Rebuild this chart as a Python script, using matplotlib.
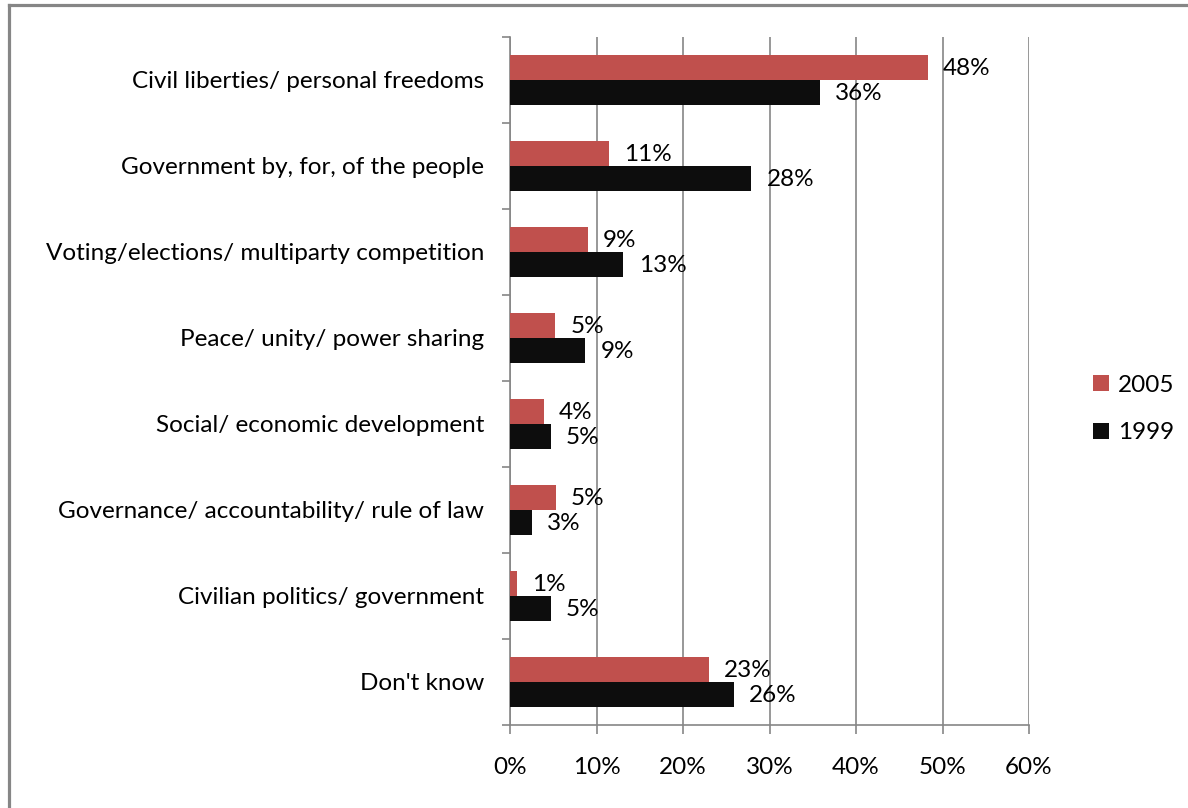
import numpy as np
import matplotlib.pyplot as plt
from matplotlib.lines import Line2D
from matplotlib.ticker import FixedLocator

plt.rcParams['font.family'] = ['Lato', 'DejaVu Sans']

categories = ["Civil liberties/ personal freedoms",
              "Government by, for, of the people",
              "Voting/elections/ multiparty competition",
              "Peace/ unity/ power sharing",
              "Social/ economic development",
              "Governance/ accountability/ rule of law",
              "Civilian politics/ government",
              "Don't know"]
vals_2005 = [48.3, 11.4, 9.0, 5.2, 3.9, 5.3, 0.8, 23.0]
vals_1999 = [35.8, 27.9, 13.1, 8.7, 4.7, 2.5, 4.7, 25.9]
labels_2005 = ["48%", "11%", "9%", "5%", "4%", "5%", "1%", "23%"]
labels_1999 = ["36%", "28%", "13%", "9%", "5%", "3%", "5%", "26%"]
xticks = [0, 10, 20, 30, 40, 50, 60]

red = '#C0504D'
black = '#0D0D0D'
grey = '#868686'
fs = 17.5

fig = plt.figure(figsize=(11.88, 8.08), dpi=100)
ax = fig.add_axes([510 / 1188, 1 - 725 / 808, 519 / 1188, 688 / 808])

y = np.arange(len(categories))
h = 0.29
b1 = ax.barh(y - h / 2, vals_2005, height=h, color=red, label='2005', zorder=3)
b2 = ax.barh(y + h / 2, vals_1999, height=h, color=black, label='1999', zorder=3)

for bars, labs in ((b1, labels_2005), (b2, labels_1999)):
    for bar, lab in zip(bars, labs):
        ax.annotate(lab, (bar.get_width(), bar.get_y() + bar.get_height() / 2),
                    xytext=(11, -1), textcoords='offset points',
                    va='center', ha='left', fontsize=fs, color='black', zorder=4)

ax.set_xlim(0, 60)
ax.set_ylim(len(categories) - 0.5, -0.5)
ax.set_xticks(xticks)
ax.set_xticklabels([f"{t}%" for t in xticks])
ax.set_yticks(y)
ax.set_yticklabels(categories)
ax.yaxis.set_minor_locator(FixedLocator(np.arange(-0.5, len(categories), 1.0)))

ax.grid(axis='x', color=grey, linewidth=1.2, zorder=0)
for s in ('top', 'right'):
    ax.spines[s].set_visible(False)
for s in ('left', 'bottom'):
    ax.spines[s].set_color(grey)
    ax.spines[s].set_linewidth(1.2)

ax.tick_params(axis='x', length=6.5, width=1.2, color=grey, pad=16.5, labelsize=fs)
ax.tick_params(axis='y', which='major', length=0, pad=18.5, labelsize=fs)
ax.tick_params(axis='y', which='minor', length=6, width=1.2, color=grey)

fig.legend(loc='center left', bbox_to_anchor=(1093 / 1188, 1 - 409 / 808),
           frameon=False, fontsize=fs, handlelength=0.66, handleheight=0.66,
           handletextpad=0.35, labelspacing=1.1, borderpad=0, borderaxespad=0)

# outer frame (only top and left visible)
fig.add_artist(Line2D([8.5 / 1188, 1], [1 - 4.5 / 808, 1 - 4.5 / 808],
                      transform=fig.transFigure, color=grey, linewidth=2.3))
fig.add_artist(Line2D([8.5 / 1188, 8.5 / 1188], [0, 1 - 4.5 / 808],
                      transform=fig.transFigure, color=grey, linewidth=2.3))

fig.savefig('out.png', dpi=100)
